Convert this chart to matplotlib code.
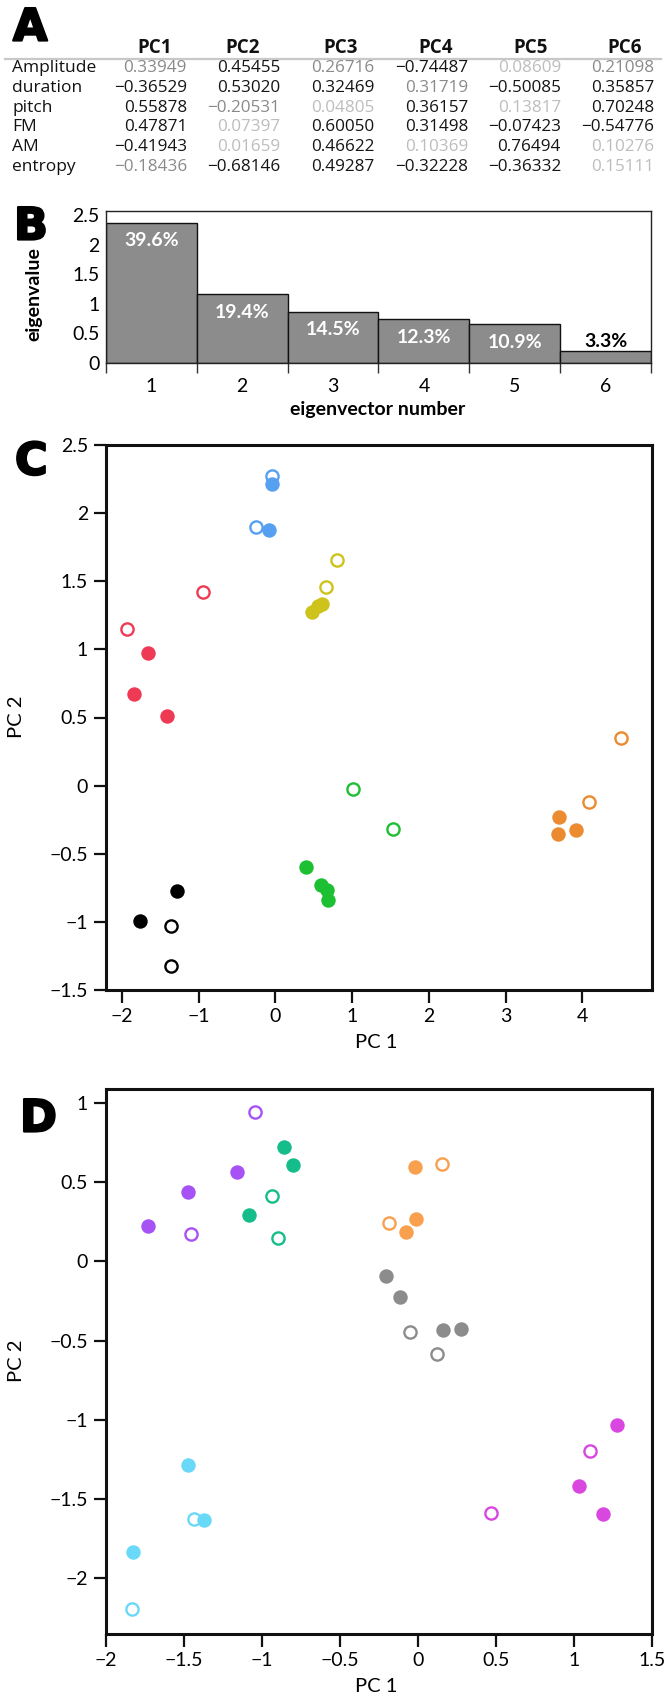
import matplotlib
matplotlib.use("Agg")
import matplotlib.pyplot as plt
import matplotlib.patheffects as pe
from matplotlib.ticker import FixedLocator, NullFormatter, FixedFormatter

W, H, DPI = 672, 1700, 100

# ---------------- data ----------------
row_labels = ["Amplitude", "duration", "pitch", "FM", "AM", "entropy"]
pc_headers = ["PC1", "PC2", "PC3", "PC4", "PC5", "PC6"]
pc1 = [0.33949, -0.36529, 0.55878, 0.47871, -0.41943, -0.18436]
pc2 = [0.45455, 0.53020, -0.20531, 0.07397, 0.01659, -0.68146]
pc3 = [0.26716, 0.32469, 0.04805, 0.60050, 0.46622, 0.49287]
pc4 = [-0.74487, 0.31719, 0.36157, 0.31498, 0.10369, -0.32228]
pc5 = [0.08609, -0.50085, 0.13817, -0.07423, 0.76494, -0.36332]
pc6 = [0.21098, 0.35857, 0.70248, -0.54776, 0.10276, 0.15111]
loadings = [pc1, pc2, pc3, pc4, pc5, pc6]

eig_numbers = [1, 2, 3, 4, 5, 6]
eigenvalues = [2.376, 1.164, 0.870, 0.738, 0.654, 0.198]
eig_pct = ["39.6%", "19.4%", "14.5%", "12.3%", "10.9%", "3.3%"]

# panel C clusters (PC1, PC2)
c_red_f = ([-1.66, -1.85, -1.42], [0.97, 0.67, 0.51])
c_red_o = ([-1.94, -0.95], [1.15, 1.42])
c_blue_f = ([-0.04, -0.08], [2.215, 1.877])
c_blue_o = ([-0.04, -0.25], [2.27, 1.897])
c_yel_f = ([0.47, 0.55, 0.61], [1.275, 1.315, 1.335])
c_yel_o = ([0.80, 0.66], [1.658, 1.46])
c_grn_f = ([0.40, 0.59, 0.67, 0.69], [-0.595, -0.73, -0.765, -0.84])
c_grn_o = ([1.01, 1.53], [-0.025, -0.315])
c_org_f = ([3.70, 3.69, 3.92], [-0.232, -0.356, -0.324])
c_org_o = ([4.51, 4.09], [0.351, -0.117])
c_blk_f = ([-1.29, -1.77], [-0.77, -0.99])
c_blk_o = ([-1.36, -1.36], [-1.03, -1.325])

# panel D clusters (PC1, PC2)
d_pur_f = ([-1.163, -1.477, -1.728], [0.568, 0.436, 0.225])
d_pur_o = ([-1.048, -1.458], [0.947, 0.171])
d_teal_f = ([-0.861, -0.80, -1.086], [0.722, 0.608, 0.293])
d_teal_o = ([-0.938, -0.899], [0.415, 0.145])
d_org_f = ([-0.019, -0.010, -0.079], [0.596, 0.267, 0.187])
d_org_o = ([0.157, -0.189], [0.617, 0.242])
d_gry_f = ([-0.203, -0.115, 0.160, 0.273], [-0.091, -0.227, -0.432, -0.427])
d_gry_o = ([-0.049, 0.119], [-0.448, -0.583])
d_mag_f = ([1.275, 1.033, 1.187], [-1.033, -1.42, -1.598])
d_mag_o = ([1.104, 0.471], [-1.199, -1.592])
d_cyan_f = ([-1.472, -1.375, -1.827], [-1.289, -1.636, -1.835])
d_cyan_o = ([-1.436, -1.835], [-1.63, -2.199])

c_ticks_x = [-2, -1, 0, 1, 2, 3, 4]
c_ticks_y = [-1.5, -1, -0.5, 0, 0.5, 1, 1.5, 2, 2.5]
d_ticks_x = [-2, -1.5, -1, -0.5, 0, 0.5, 1, 1.5]
d_ticks_y = [-2, -1.5, -1, -0.5, 0, 0.5, 1]
b_ticks_y = [0, 0.5, 1, 1.5, 2, 2.5]

# ---------------- style ----------------
# shade of each loading (k = black, m = medium grey, l = light grey), per PC column
shades = [
    "mkkkkm",
    "kkmllk",
    "mklkkk",
    "kmkklk",
    "lklkkk",
    "mkkkll",
]
shade_col = {"k": "#151515", "m": "#8a8a8a", "l": "#bdbdbd"}

TAB_FONT = ["Open Sans", "DejaVu Sans"]
AX_FONT = ["Lato", "DejaVu Sans"]
BIG_FONT = ["DejaVu Sans"]
HEAVY = [pe.withStroke(linewidth=1.6, foreground="black")]


def fx(px):
    return px / W


def fy(py):
    return 1 - py / H


def fmt(v):
    s = f"{abs(v):.5f}"
    return ("\u2212" + s) if v < 0 else s


def panel_letter(x, y, s):
    fig.text(fx(x), fy(y), s, fontsize=32, fontweight="bold", family=BIG_FONT,
             ha="left", va="center", path_effects=HEAVY)


fig = plt.figure(figsize=(W / DPI, H / DPI), dpi=DPI)
fig.patch.set_facecolor("white")

# ---------------- panel A: table ----------------
panel_letter(13, 28, "A")
col_right = [187, 280, 374, 468, 561, 654]
head_center = [155, 243, 341, 436, 531, 625]
row_y = [68, 88, 107.5, 127, 147, 167]
for j, h in enumerate(pc_headers):
    fig.text(fx(head_center[j]), fy(48), h, fontsize=13.5, fontweight="bold",
             family=TAB_FONT, ha="center", va="center", color="#111111")
fig.add_artist(plt.Line2D([fx(5), fx(661)], [fy(59), fy(59)], color="#c8c8c8", lw=1.6))
for i, lab in enumerate(row_labels):
    fig.text(fx(12), fy(row_y[i]), lab, fontsize=12.5, family=TAB_FONT,
             ha="left", va="center", color="#111111")
    for j in range(6):
        fig.text(fx(col_right[j]), fy(row_y[i]), fmt(loadings[j][i]), fontsize=12.3,
                 family=TAB_FONT, ha="right", va="center",
                 color=shade_col[shades[j][i]])

# ---------------- panel B: eigenvalues ----------------
axB = fig.add_axes([fx(106), fy(363), fx(651) - fx(106), fy(211) - fy(363)])
axB.bar(eig_numbers, eigenvalues, width=1.0, color="#8c8c8c", edgecolor="#111111",
        linewidth=1.0, zorder=2)
axB.set_xlim(0.5, 6.5)
axB.set_ylim(0, 2.575)
for sp in axB.spines.values():
    sp.set_linewidth(1.0)
    sp.set_color("#222222")
axB.xaxis.set_major_locator(FixedLocator([n - 0.5 for n in eig_numbers] + [6.5]))
axB.xaxis.set_major_formatter(NullFormatter())
axB.xaxis.set_minor_locator(FixedLocator(eig_numbers))
axB.xaxis.set_minor_formatter(FixedFormatter([str(n) for n in eig_numbers]))
axB.tick_params(axis="x", which="major", direction="out", length=7, width=1, color="#333333")
axB.tick_params(axis="x", which="minor", length=0, pad=11, labelsize=14)
axB.set_yticks(b_ticks_y)
axB.set_yticklabels(["0", "0.5", "1", "1.5", "2", "2.5"])
axB.tick_params(axis="y", direction="out", length=0, pad=4.5, labelsize=14)
for lab in axB.get_xticklabels(which="both") + axB.get_yticklabels():
    lab.set_family(AX_FONT)
for n, v, p in zip(eig_numbers, eigenvalues, eig_pct):
    if v > 0.4:
        axB.annotate(p, (n, v), xytext=(0, -13), textcoords="offset points",
                     ha="center", va="center", color="white", fontsize=14,
                     fontweight="bold", family=AX_FONT, zorder=3)
    else:
        axB.annotate(p, (n, v), xytext=(0, 1), textcoords="offset points",
                     ha="center", va="bottom", color="black", fontsize=14,
                     fontweight="bold", family=AX_FONT, zorder=3)
panel_letter(14, 227, "B")
fig.text(fx(34), fy(294), "eigenvalue", rotation=90, fontsize=14, fontweight="bold",
         family=AX_FONT, ha="center", va="center")
fig.text(fx(378), fy(410), "eigenvector number", fontsize=14, fontweight="bold",
         family=AX_FONT, ha="center", va="center")


# ---------------- scatter helpers ----------------
def scatter_panel(ax, opens, fills):
    for (xs, ys), col in opens:
        ax.plot(xs, ys, "o", ms=8.8, mfc="white", mec=col, mew=1.7, ls="none", zorder=3)
    for (xs, ys), col in fills:
        ax.plot(xs, ys, "o", ms=10.4, mfc=col, mec=col, mew=0, ls="none", zorder=4)


def style_scatter(ax, xt, yt):
    for sp in ax.spines.values():
        sp.set_linewidth(2.2)
        sp.set_color("#111111")
    ax.set_xticks(xt)
    ax.set_yticks(yt)
    ax.set_xticklabels([f"{t:g}".replace("-", "\u2212") for t in xt])
    ax.set_yticklabels([f"{t:g}".replace("-", "\u2212") for t in yt])
    ax.tick_params(direction="out", length=9, width=1.6, color="#111111",
                   labelsize=14, pad=4)
    for lab in ax.get_xticklabels() + ax.get_yticklabels():
        lab.set_family(AX_FONT)


# ---------------- panel C ----------------
axC = fig.add_axes([fx(106), fy(990), fx(652) - fx(106), fy(445) - fy(990)])
scatter_panel(
    axC,
    opens=[(c_red_o, "#ee3a55"), (c_blue_o, "#55a0f0"), (c_yel_o, "#cdc31a"),
           (c_grn_o, "#1dbf33"), (c_org_o, "#ec8a30"), (c_blk_o, "#000000")],
    fills=[(c_red_f, "#ee3a55"), (c_blue_f, "#55a0f0"), (c_yel_f, "#cdc31a"),
           (c_grn_f, "#1dbf33"), (c_org_f, "#ec8a30"), (c_blk_f, "#000000")],
)
axC.set_xlim(-2.21, 4.91)
axC.set_ylim(-1.5, 2.5)
style_scatter(axC, c_ticks_x, c_ticks_y)
panel_letter(15, 462, "C")
fig.text(fx(17), fy(717), "PC 2", rotation=90, fontsize=14.5, family=AX_FONT,
         ha="center", va="center")
fig.text(fx(376), fy(1042), "PC 1", fontsize=14.5, family=AX_FONT,
         ha="center", va="center")

# ---------------- panel D ----------------
axD = fig.add_axes([fx(106), fy(1634), fx(652) - fx(106), fy(1089) - fy(1634)])
scatter_panel(
    axD,
    opens=[(d_pur_o, "#a752f5"), (d_teal_o, "#14bd8a"), (d_org_o, "#f9a04f"),
           (d_gry_o, "#8c8c8c"), (d_mag_o, "#d947e0"), (d_cyan_o, "#6ad8f7")],
    fills=[(d_pur_f, "#a752f5"), (d_teal_f, "#14bd8a"), (d_org_f, "#f9a04f"),
           (d_gry_f, "#8c8c8c"), (d_mag_f, "#d947e0"), (d_cyan_f, "#6ad8f7")],
)
axD.set_xlim(-2, 1.5)
axD.set_ylim(-2.355, 1.09)
style_scatter(axD, d_ticks_x, d_ticks_y)
panel_letter(20, 1119, "D")
fig.text(fx(17), fy(1361), "PC 2", rotation=90, fontsize=14.5, family=AX_FONT,
         ha="center", va="center")
fig.text(fx(376), fy(1687), "PC 1", fontsize=14.5, family=AX_FONT,
         ha="center", va="center")

fig.savefig("out.png", dpi=DPI, facecolor="white")
